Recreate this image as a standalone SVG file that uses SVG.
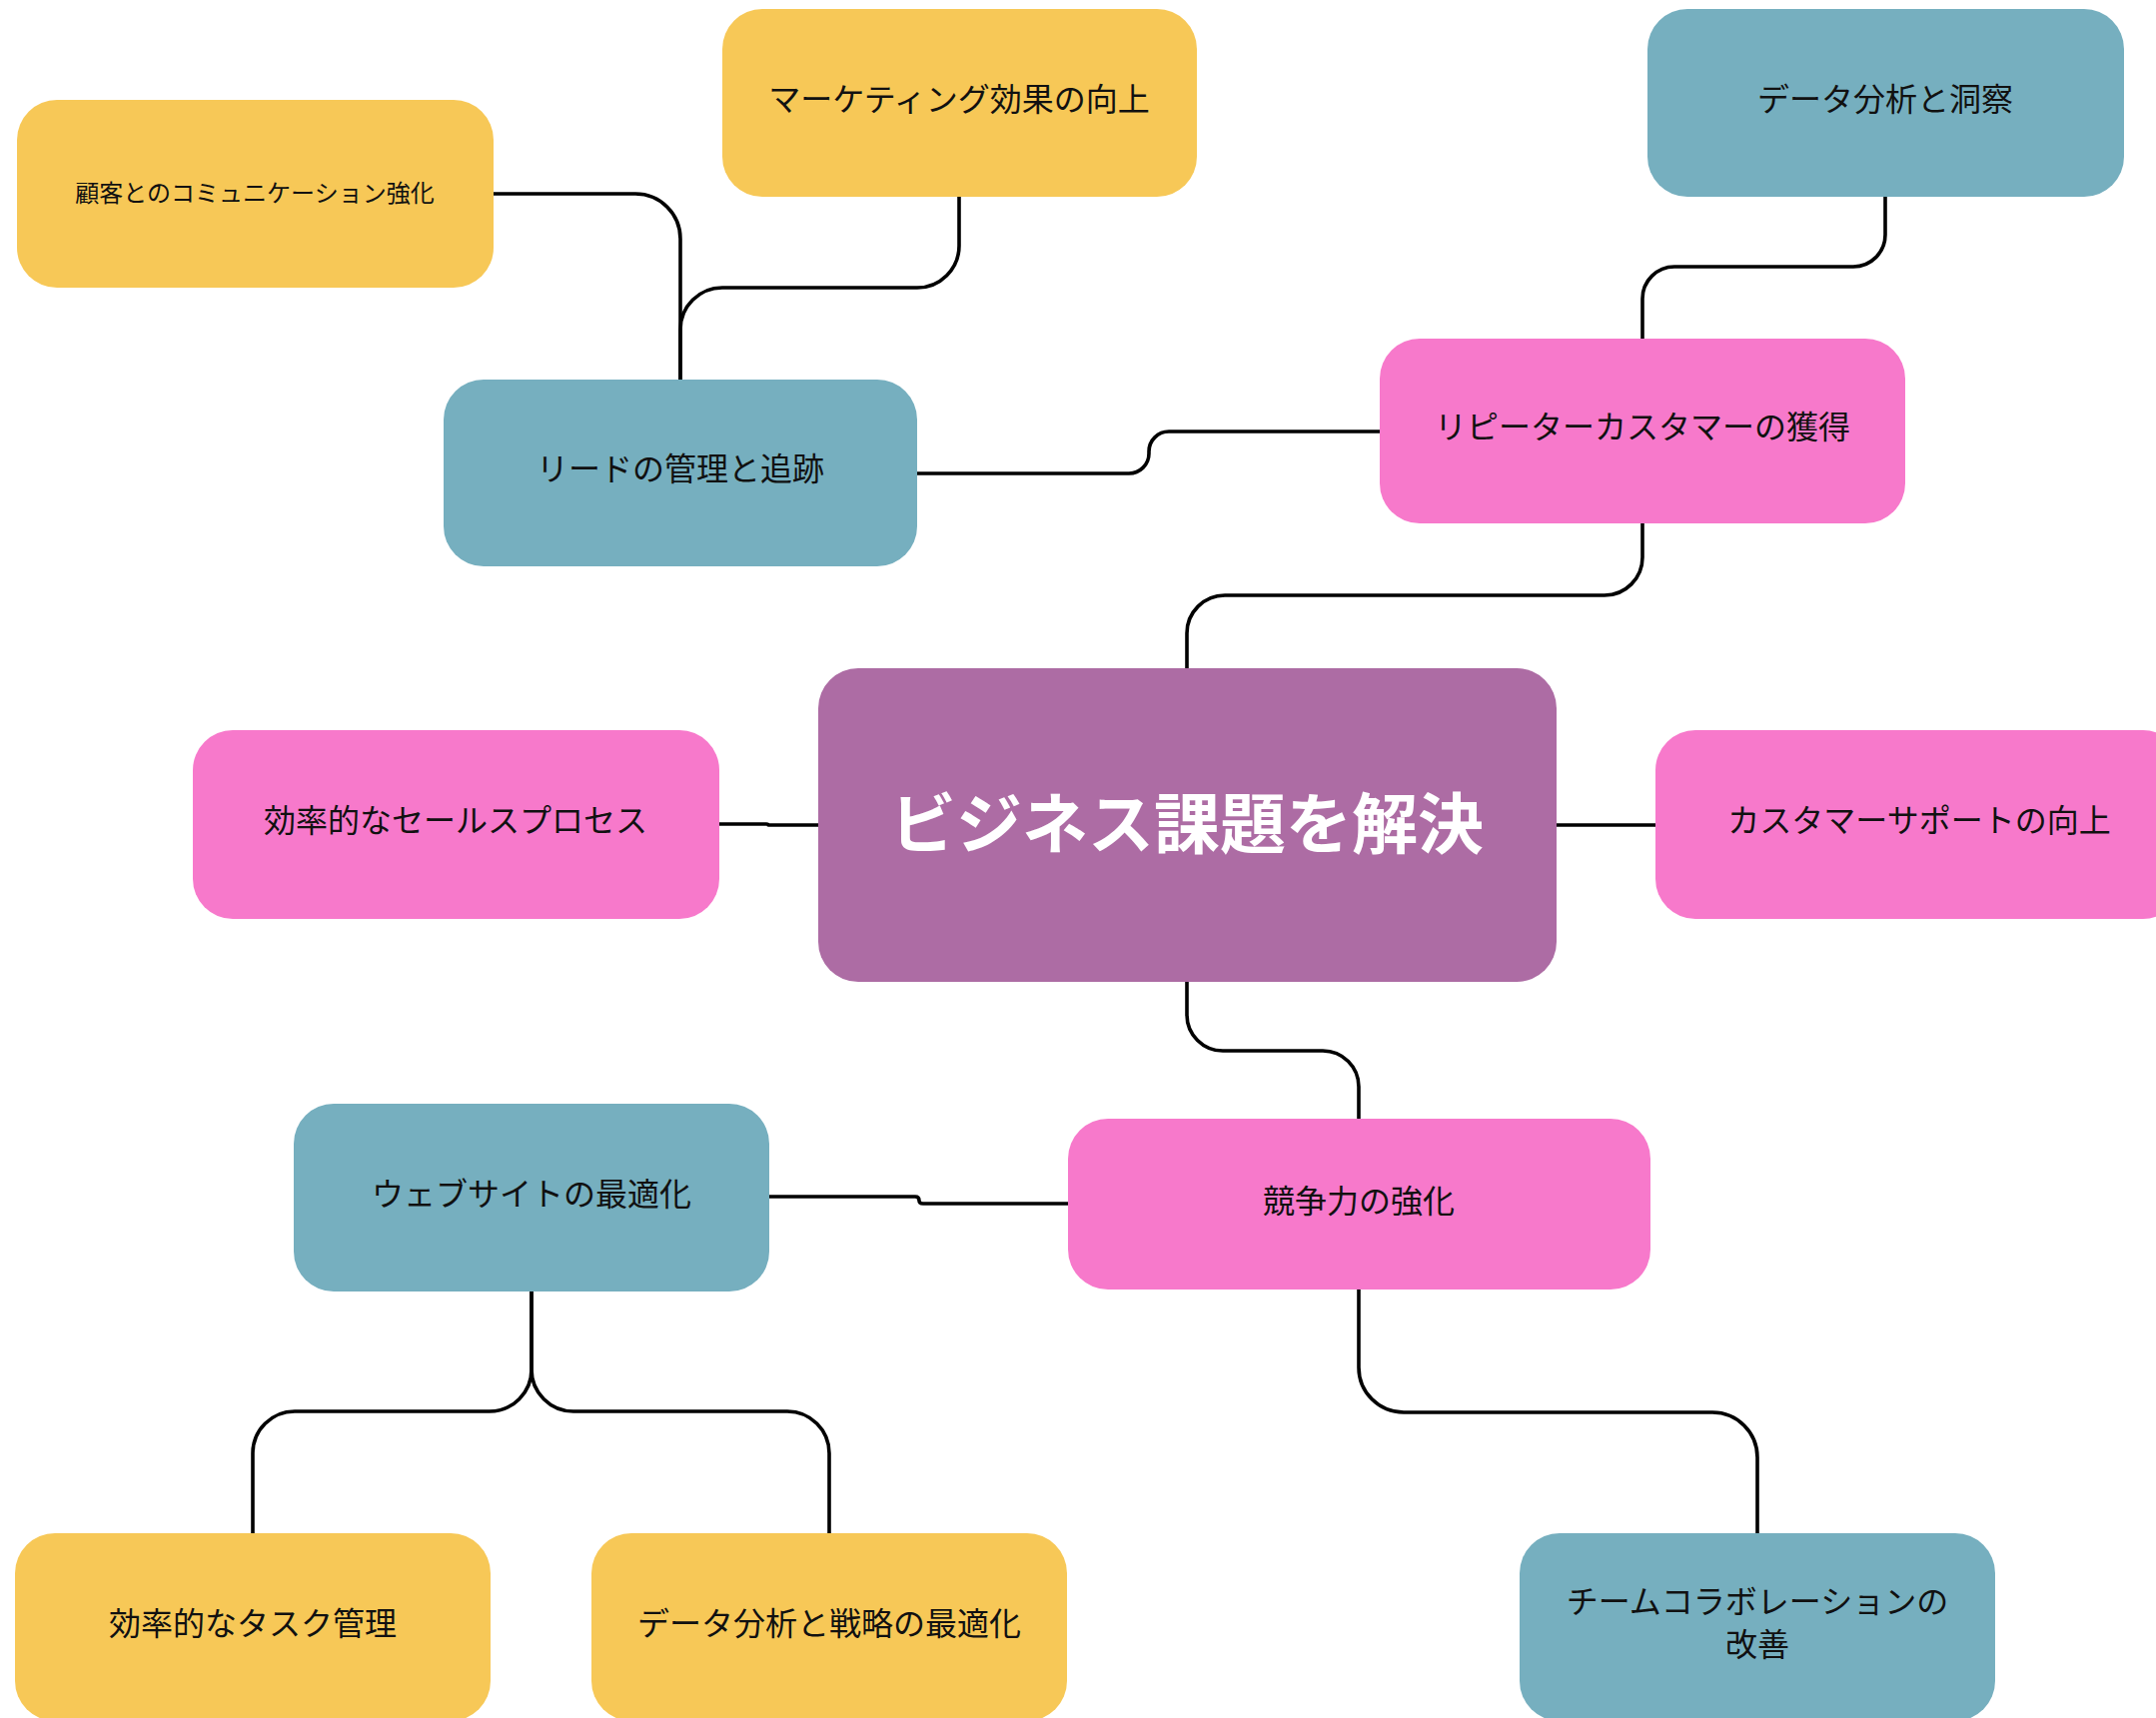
<svg xmlns="http://www.w3.org/2000/svg" width="2158" height="1720" viewBox="0 0 2158 1720">
<style>
.y{fill:#F7C857}.t{fill:#76AFBF}.p{fill:#F779CB}.c{fill:#AD6CA4}
text{font-family:"Noto Sans CJK JP","Noto Sans",sans-serif;text-anchor:middle;dominant-baseline:central;fill:#111}
.s{font-size:32px}.xs{font-size:24px}
.big{font-size:66px;font-weight:bold;fill:#fff}
.e{fill:none;stroke:#000;stroke-width:3.6;stroke-linecap:round;stroke-linejoin:round}
</style>
<rect width="2158" height="1720" fill="#fff"/>
<g id="connectors">
<path class="e" d="M494,194 H636 A45 45 0 0 1 681,239 V380"/>
<path class="e" d="M960,197 V246 A42 42 0 0 1 918,288 H723 A42 42 0 0 0 681,330 V380"/>
<path class="e" d="M918,474 H1130 A20 20 0 0 0 1150,454 V452 A20 20 0 0 1 1170,432 H1381"/>
<path class="e" d="M1887,197 V235 A32 32 0 0 1 1855,267 H1676 A32 32 0 0 0 1644,299 V339"/>
<path class="e" d="M1644,524 V558 A38 38 0 0 1 1606,596 H1226 A38 38 0 0 0 1188,634 V669"/>
<path class="e" d="M720,825 H767 Q769,825 769,826 H819"/>
<path class="e" d="M1558,826 H1657"/>
<path class="e" d="M1188,983 V1016 A36 36 0 0 0 1224,1052 H1324 A36 36 0 0 1 1360,1088 V1120"/>
<path class="e" d="M770,1198 H916 Q920,1198 920,1202 Q920,1205 924,1205 H1069"/>
<path class="e" d="M532,1293 V1371 A42 42 0 0 1 490,1413 H295 A42 42 0 0 0 253,1455 V1535"/>
<path class="e" d="M532,1293 V1371 A42 42 0 0 0 574,1413 H788 A42 42 0 0 1 830,1455 V1535"/>
<path class="e" d="M1360,1291 V1369 A45 45 0 0 0 1405,1414 H1714 A45 45 0 0 1 1759,1459 V1535"/>
</g>
<g id="n1"><rect class="y" x="17" y="100" width="477" height="188" rx="40"/><text class="xs" x="255" y="191">顧客とのコミュニケーション強化</text></g>
<g id="n2"><rect class="y" x="723" y="9" width="475" height="188" rx="40"/><text class="s" x="960" y="97">マーケティング効果の向上</text></g>
<g id="n3"><rect class="t" x="444" y="380" width="474" height="187" rx="40"/><text class="s" x="681" y="467">リードの管理と追跡</text></g>
<g id="n4"><rect class="t" x="1649" y="9" width="477" height="188" rx="40"/><text class="s" x="1887" y="97">データ分析と洞察</text></g>
<g id="n5"><rect class="p" x="1381" y="339" width="526" height="185" rx="40"/><text class="s" x="1644" y="425">リピーターカスタマーの獲得</text></g>
<g id="center"><rect class="c" x="819" y="669" width="739" height="314" rx="40"/><text class="big" x="1188" y="820">ビジネス課題を解決</text></g>
<g id="n7"><rect class="p" x="193" y="731" width="527" height="189" rx="40"/><text class="s" x="456" y="819">効率的なセールスプロセス</text></g>
<g id="n8"><rect class="p" x="1657" y="731" width="528" height="189" rx="40"/><text class="s" x="1921" y="819">カスタマーサポートの向上</text></g>
<g id="n9"><rect class="t" x="294" y="1105" width="476" height="188" rx="40"/><text class="s" x="532" y="1193">ウェブサイトの最適化</text></g>
<g id="n10"><rect class="p" x="1069" y="1120" width="583" height="171" rx="40"/><text class="s" x="1360" y="1200">競争力の強化</text></g>
<g id="n11"><rect class="y" x="15" y="1535" width="476" height="188" rx="40"/><text class="s" x="253" y="1623">効率的なタスク管理</text></g>
<g id="n12"><rect class="y" x="592" y="1535" width="476" height="188" rx="40"/><text class="s" x="830" y="1623">データ分析と戦略の最適化</text></g>
<g id="n13"><rect class="t" x="1521" y="1535" width="476" height="188" rx="40"/><text class="s" x="1759" y="1601">チームコラボレーションの</text><text class="s" x="1759" y="1644">改善</text></g>
</svg>
